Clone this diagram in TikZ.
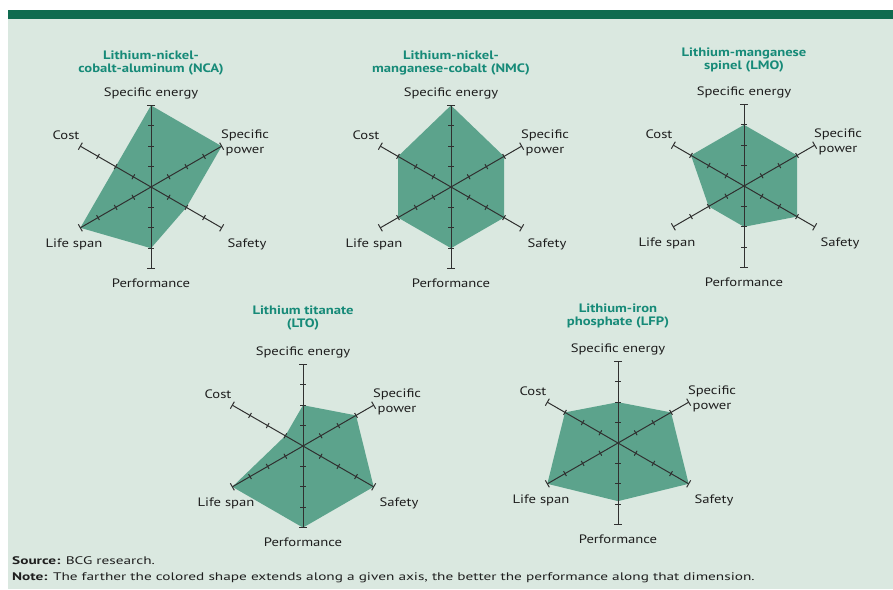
\documentclass[tikz,border=0pt]{standalone}
\usepackage{fontspec}
\setmainfont{PT Sans}[FakeStretch=1.2]
\newfontfamily\footfont{PT Sans}[FakeStretch=1.39]
\definecolor{bgmint}{HTML}{DAE8E0}
\definecolor{barGreen}{HTML}{0F6B4F}
\definecolor{areaGreen}{HTML}{5CA38C}
\definecolor{titleTeal}{HTML}{168A78}
\definecolor{axisGrey}{HTML}{303030}
\definecolor{textDark}{HTML}{1E1E1E}
\newcommand\rU{20.4}
\tikzset{
  areafill/.style={fill=areaGreen},
  axisline/.style={draw=axisGrey, line width=1pt},
  lbl/.style={inner sep=0pt, text=textDark, font=\fontsize{12.2}{14.5}\selectfont, align=center},
  ttl/.style={inner sep=0pt, text=titleTeal, font=\fontsize{12.2}{13.3}\selectfont\bfseries, align=center},
  foot/.style={inner sep=0pt, anchor=base west, text=textDark, font=\footfont\fontsize{11}{13}\selectfont}
}
\newcommand\radar[9]{%
\begin{scope}[shift={(#2,#3)}]
  \fill[areafill] (-90:#4*\rU) -- (-30:#5*\rU) -- (30:#6*\rU) -- (90:#7*\rU) -- (150:#8*\rU) -- (210:#9*\rU) -- cycle;
  \foreach \a in {-90,-30,30,90,150,210}{
    \draw[axisline] (0,0) -- (\a:4*\rU);
    \foreach \k in {1,2,3} \draw[axisline] (\a:\k*\rU) ++(\a+90:2.8) -- ++(\a-90:5.6);
    \draw[axisline] (\a:4*\rU) ++(\a+90:4) -- ++(\a-90:8);
  }
  \node[lbl] (#1se) at (0,-94) {Specific energy};
  \node[lbl] (#1sp) at (94,-44) {Specific\\power};
  \node[lbl] (#1sa) at (96,57) {Safety};
  \node[lbl] (#1pe) at (0,96) {Performance};
  \node[lbl] (#1ls) at (-77,57) {Life span};
  \node[lbl] (#1co) at (-85,-52) {Cost};
\end{scope}}
\begin{document}
\begin{tikzpicture}[x=1pt,y=-1pt]
\useasboundingbox (0,0) rectangle (893,589);
\fill[white] (0,0) rectangle (893,589);
\fill[bgmint] (8,19) rectangle (893,589);
\fill[barGreen] (8,10) rectangle (893,19);
\radar{nca}{151}{187}{4}{4}{2}{3}{4}{2}
\radar{nmc}{451}{187}{4}{3}{3}{3}{3}{3}
\radar{lmo}{744}{186}{3}{3}{3}{2}{2}{3}
\radar{lto}{303}{446}{2}{3}{4}{4}{4}{1}
\radar{lfp}{618}{443}{2}{3}{4}{2.85}{4}{3}
\node[ttl] (ncat) at (151,63) {Lithium-nickel-\\cobalt-aluminum (NCA)};
\node[ttl] (nmct) at (451,63) {Lithium-nickel-\\manganese-cobalt (NMC)};
\node[ttl] (lmot) at (744,60) {Lithium-manganese\\spinel (LMO)};
\node[ttl] (ltot) at (303,318) {Lithium titanate\\(LTO)};
\node[ttl] (lfpt) at (618,316) {Lithium-iron\\phosphate (LFP)};
\node[foot] (src) at (12,564) {\textbf{Source:} BCG research.};
\node[foot] (note) at (12,580) {\textbf{Note:} The farther the colored shape extends along a given axis, the better the performance along that dimension.};
\end{tikzpicture}
\end{document}
